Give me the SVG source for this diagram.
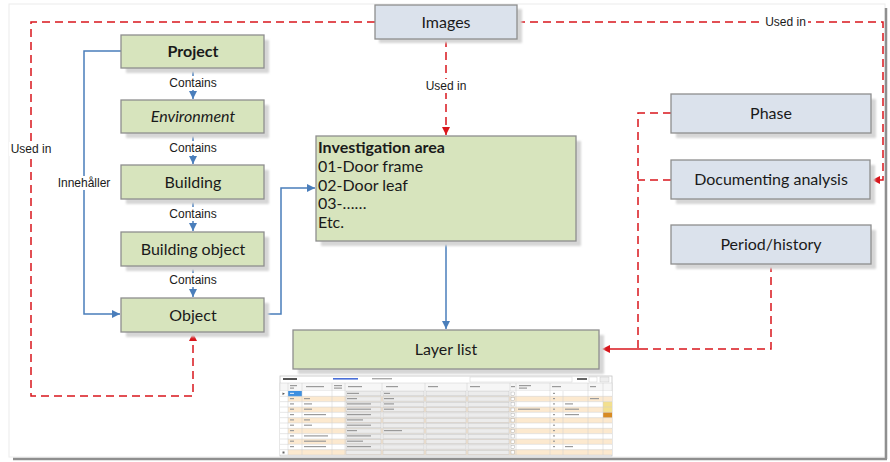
<svg xmlns="http://www.w3.org/2000/svg" width="890" height="462" viewBox="0 0 890 462">
<defs>
<style>
.g{fill:#d7e4bd;stroke:#8e8e8e;stroke-width:1.3}
.b{fill:#dbe2ec;stroke:#8e8e8e;stroke-width:1.3}
.sh{fill:#d6d6d6;filter:url(#blur)}
.t{font-family:Lato,"Noto Sans",sans-serif;font-size:16px;fill:#1a1a1a;text-anchor:middle}
.lbl{font-family:"Liberation Sans",Arial,sans-serif;font-size:12px;fill:#1a1a1a;text-anchor:middle}
.bl{fill:none;stroke:#4a7ebb;stroke-width:1.5}
.rd{fill:none;stroke:#d9161c;stroke-width:1.5;stroke-dasharray:8,5}
.bg{fill:#ffffff}
.cell{stroke:#cfcfcf;stroke-width:0.5}
.dd{fill:#ececec;stroke:#bdbdbd;stroke-width:0.4}
.tx{fill:#9a9a9a}
</style>
<filter id="blur" x="-10%" y="-10%" width="120%" height="120%"><feGaussianBlur stdDeviation="1.2"/></filter>
<marker id="ab" markerUnits="userSpaceOnUse" markerWidth="10" markerHeight="10" refX="8" refY="4" orient="auto"><path d="M0,0 L8,4 L0,8 z" fill="#4a7ebb"/></marker>
<marker id="ar" markerUnits="userSpaceOnUse" markerWidth="10" markerHeight="10" refX="8" refY="4" orient="auto"><path d="M0,0 L8,4 L0,8 z" fill="#d9161c"/></marker>
</defs>

<!-- frame -->
<rect x="0" y="0" width="890" height="462" fill="#ffffff"/>
<rect x="9" y="4" width="876" height="453" fill="#ffffff" stroke="#ececec" stroke-width="1"/>
<line x1="13" y1="459" x2="887" y2="459" stroke="#8f8f8f" stroke-width="2.5"/>
<line x1="886" y1="8" x2="886" y2="459" stroke="#8f8f8f" stroke-width="2.5"/>

<!-- connectors -->
<g id="connectors">
<path class="bl" d="M121,51 H84 V314 H120" marker-end="url(#ab)"/>
<path class="bl" d="M193,68 V99" marker-end="url(#ab)"/>
<path class="bl" d="M193,133 V164" marker-end="url(#ab)"/>
<path class="bl" d="M193,199 V231" marker-end="url(#ab)"/>
<path class="bl" d="M193,266 V297" marker-end="url(#ab)"/>
<path class="bl" d="M264,314 H281 V188 H315" marker-end="url(#ab)"/>
<path class="bl" d="M446,241 V329" marker-end="url(#ab)"/>
<path class="rd" d="M375,22 H31 V396 H193 V333" marker-end="url(#ar)"/>
<path class="rd" d="M517,22 H883 V180 H872" marker-end="url(#ar)"/>
<path class="rd" d="M446,39 V135" marker-end="url(#ar)"/>
<path class="rd" d="M671,113 H638 V349"/>
<path class="rd" d="M671,180 H638"/>
<path class="rd" d="M771,264 V349 H640"/>
<path d="M640,349 H602" fill="none" stroke="#d9161c" stroke-width="1.5" marker-end="url(#ar)"/>
<!-- labels -->
<rect class="bg" x="166" y="76" width="54" height="14"/>
<text class="lbl" x="193" y="87">Contains</text>
<rect class="bg" x="166" y="141" width="54" height="14"/>
<text class="lbl" x="193" y="152">Contains</text>
<rect class="bg" x="166" y="207" width="54" height="14"/>
<text class="lbl" x="193" y="218">Contains</text>
<rect class="bg" x="166" y="273" width="54" height="14"/>
<text class="lbl" x="193" y="284">Contains</text>
<rect class="bg" x="56" y="176" width="56" height="14"/>
<text class="lbl" x="84" y="187">Innehåller</text>
<rect class="bg" x="9" y="142" width="44" height="14"/>
<text class="lbl" x="31" y="153">Used in</text>
<rect class="bg" x="424" y="79" width="44" height="14"/>
<text class="lbl" x="446" y="90">Used in</text>
<rect class="bg" x="763" y="15" width="45" height="14"/>
<text class="lbl" x="785.5" y="26">Used in</text>
</g>

<!-- nodes -->
<g id="images">
<rect class="sh" x="379" y="9" width="143" height="34"/>
<rect class="b" x="375" y="5" width="142" height="34"/>
<text class="t" x="446" y="27.5">Images</text>
</g>
<g id="project">
<rect class="sh" x="126" y="40" width="143" height="33"/>
<rect class="g" x="121" y="35" width="143" height="33"/>
<text class="t" x="193" y="57" font-weight="bold">Project</text>
</g>
<g id="environment">
<rect class="sh" x="126" y="105" width="143" height="33"/>
<rect class="g" x="121" y="100" width="143" height="33"/>
<text class="t" x="193" y="122" font-style="italic">Environment</text>
</g>
<g id="building">
<rect class="sh" x="126" y="170" width="143" height="34"/>
<rect class="g" x="121" y="165" width="143" height="34"/>
<text class="t" x="193" y="187.5">Building</text>
</g>
<g id="building-object">
<rect class="sh" x="126" y="237" width="143" height="34"/>
<rect class="g" x="121" y="232" width="143" height="34"/>
<text class="t" x="193" y="254.5">Building object</text>
</g>
<g id="object">
<rect class="sh" x="126" y="303" width="143" height="34"/>
<rect class="g" x="121" y="298" width="143" height="34"/>
<text class="t" x="193" y="320.5">Object</text>
</g>
<g id="investigation-area">
<rect class="sh" x="321" y="141" width="260" height="105"/>
<rect class="g" x="316" y="136" width="260" height="105"/>
<g font-family="Lato,'Noto Sans',sans-serif" font-size="16" fill="#1a1a1a">
<text x="318" y="153" font-weight="bold">Investigation area</text>
<text x="318" y="172">01-Door frame</text>
<text x="318" y="191">02-Door leaf</text>
<text x="318" y="209">03-……</text>
<text x="318" y="228">Etc.</text>
</g>
</g>
<g id="layer-list">
<rect class="sh" x="298" y="335" width="306" height="39"/>
<rect class="g" x="293" y="330" width="306" height="39"/>
<text class="t" x="446" y="355">Layer list</text>
</g>
<g id="phase">
<rect class="sh" x="676" y="99" width="200" height="39"/>
<rect class="b" x="671" y="94" width="200" height="39"/>
<text class="t" x="771" y="119">Phase</text>
</g>
<g id="documenting-analysis">
<rect class="sh" x="676" y="165" width="199" height="39"/>
<rect class="b" x="671" y="160" width="199" height="39"/>
<text class="t" x="771" y="185">Documenting analysis</text>
</g>
<g id="period-history">
<rect class="sh" x="676" y="230" width="200" height="39"/>
<rect class="b" x="671" y="225" width="200" height="39"/>
<text class="t" x="771" y="250">Period/history</text>
</g>

<!-- layer list screenshot thumbnail -->
<g id="layer-table">
<rect x="280" y="376" width="332" height="80" fill="#ffffff" stroke="#c4c4c4" stroke-width="0.8"/>
<!-- title row -->
<rect x="283" y="378" width="14" height="2" fill="#555"/>
<rect x="333" y="378" width="25" height="1.6" fill="#4a6fd8"/>
<rect x="372" y="378" width="20" height="1.4" fill="#aaa"/>
<rect x="470" y="377" width="102" height="5" fill="#fff" stroke="#d0d0d0" stroke-width="0.5"/>
<rect x="577" y="378" width="10" height="2" fill="#666"/>
<rect x="589" y="377" width="8" height="5" fill="#fff" stroke="#c0c0c0" stroke-width="0.4"/>
<rect x="600" y="377" width="9" height="5" fill="#eee" stroke="#c0c0c0" stroke-width="0.4"/>
<!-- header row -->
<rect x="280" y="383" width="332" height="8" fill="#f6f6f6" stroke="#d0d0d0" stroke-width="0.5"/>
<g class="tx">
<rect x="290" y="385" width="7" height="1.2"/><rect x="290" y="387.5" width="4" height="1.2"/>
<rect x="306" y="386" width="18" height="1.2"/>
<rect x="334" y="385" width="8" height="1.2"/><rect x="334" y="387.5" width="8" height="1.2"/>
<rect x="348" y="386" width="14" height="1.2"/>
<rect x="386" y="386" width="12" height="1.2"/>
<rect x="428" y="386" width="10" height="1.2"/>
<rect x="470" y="386" width="10" height="1.2"/>
<rect x="511" y="386" width="4" height="1.2"/>
<rect x="519" y="385" width="12" height="1.2"/><rect x="519" y="387.5" width="8" height="1.2"/>
<rect x="552" y="386" width="9" height="1.2"/>
<rect x="590" y="386" width="6" height="1.2"/>
</g>
<!-- rows -->
<g>
<rect x="280" y="391" width="332" height="5.33" fill="#ffffff"/>
<rect x="280" y="396.33" width="332" height="5.33" fill="#fce9cf"/>
<rect x="280" y="401.67" width="332" height="5.33" fill="#ffffff"/>
<rect x="280" y="407" width="332" height="5.33" fill="#fce9cf"/>
<rect x="280" y="412.33" width="332" height="5.33" fill="#ffffff"/>
<rect x="280" y="417.67" width="332" height="5.33" fill="#fce9cf"/>
<rect x="280" y="423" width="332" height="5.33" fill="#ffffff"/>
<rect x="280" y="428.33" width="332" height="5.33" fill="#fce9cf"/>
<rect x="280" y="433.67" width="332" height="5.33" fill="#ffffff"/>
<rect x="280" y="439" width="332" height="5.33" fill="#fce9cf"/>
<rect x="280" y="444.33" width="332" height="5.33" fill="#ffffff"/>
<rect x="280" y="449.67" width="332" height="5.33" fill="#fce9cf"/>
<rect x="288" y="391" width="14" height="5.33" fill="#3d8fe0"/>
<rect x="280" y="391" width="8" height="64" fill="#ffffff"/>
<rect x="603" y="401.67" width="9" height="10.66" fill="#f3e08e"/>
<rect x="603" y="412.33" width="9" height="5.33" fill="#d88a22"/>
</g>
<!-- dropdown cells -->
<g class="dd">
<rect x="346" y="391.6" width="35" height="4.2"/><rect x="346" y="396.9" width="35" height="4.2"/><rect x="346" y="402.2" width="35" height="4.2"/><rect x="346" y="407.6" width="35" height="4.2"/><rect x="346" y="412.9" width="35" height="4.2"/><rect x="346" y="418.2" width="35" height="4.2"/><rect x="346" y="423.6" width="35" height="4.2"/><rect x="346" y="428.9" width="35" height="4.2"/><rect x="346" y="434.2" width="35" height="4.2"/><rect x="346" y="439.6" width="35" height="4.2"/><rect x="346" y="444.9" width="35" height="4.2"/><rect x="346" y="450.2" width="35" height="4.2"/>
<rect x="383" y="391.6" width="41" height="4.2"/><rect x="383" y="396.9" width="41" height="4.2"/><rect x="383" y="402.2" width="41" height="4.2"/><rect x="383" y="407.6" width="41" height="4.2"/><rect x="383" y="412.9" width="41" height="4.2"/><rect x="383" y="418.2" width="41" height="4.2"/><rect x="383" y="423.6" width="41" height="4.2"/><rect x="383" y="428.9" width="41" height="4.2"/><rect x="383" y="434.2" width="41" height="4.2"/><rect x="383" y="439.6" width="41" height="4.2"/><rect x="383" y="444.9" width="41" height="4.2"/><rect x="383" y="450.2" width="41" height="4.2"/>
<rect x="426" y="391.6" width="40" height="4.2"/><rect x="426" y="396.9" width="40" height="4.2"/><rect x="426" y="402.2" width="40" height="4.2"/><rect x="426" y="407.6" width="40" height="4.2"/><rect x="426" y="412.9" width="40" height="4.2"/><rect x="426" y="418.2" width="40" height="4.2"/><rect x="426" y="423.6" width="40" height="4.2"/><rect x="426" y="428.9" width="40" height="4.2"/><rect x="426" y="434.2" width="40" height="4.2"/><rect x="426" y="439.6" width="40" height="4.2"/><rect x="426" y="444.9" width="40" height="4.2"/><rect x="426" y="450.2" width="40" height="4.2"/>
<rect x="468" y="391.6" width="41" height="4.2"/><rect x="468" y="396.9" width="41" height="4.2"/><rect x="468" y="402.2" width="41" height="4.2"/><rect x="468" y="407.6" width="41" height="4.2"/><rect x="468" y="412.9" width="41" height="4.2"/><rect x="468" y="418.2" width="41" height="4.2"/><rect x="468" y="423.6" width="41" height="4.2"/><rect x="468" y="428.9" width="41" height="4.2"/><rect x="468" y="434.2" width="41" height="4.2"/><rect x="468" y="439.6" width="41" height="4.2"/><rect x="468" y="444.9" width="41" height="4.2"/><rect x="468" y="450.2" width="41" height="4.2"/>
</g>
<!-- checkboxes -->
<g fill="#fff" stroke="#999" stroke-width="0.4">
<rect x="511" y="392" width="3.4" height="3.4"/><rect x="511" y="397.3" width="3.4" height="3.4"/><rect x="511" y="402.6" width="3.4" height="3.4"/><rect x="511" y="408" width="3.4" height="3.4"/><rect x="511" y="413.3" width="3.4" height="3.4"/><rect x="511" y="418.6" width="3.4" height="3.4"/><rect x="511" y="424" width="3.4" height="3.4"/><rect x="511" y="429.3" width="3.4" height="3.4"/><rect x="511" y="434.6" width="3.4" height="3.4"/><rect x="511" y="440" width="3.4" height="3.4"/><rect x="511" y="445.3" width="3.4" height="3.4"/><rect x="511" y="450.6" width="3.4" height="3.4"/>
</g>
<!-- cell text hints -->
<g class="tx">
<rect x="304" y="398" width="6" height="1.2"/><rect x="304" y="403.3" width="8" height="1.2"/><rect x="304" y="408.6" width="8" height="1.2"/><rect x="304" y="414" width="22" height="1.2"/><rect x="304" y="419.3" width="6" height="1.2"/><rect x="304" y="424.6" width="8" height="1.2"/><rect x="304" y="435.3" width="24" height="1.2"/><rect x="304" y="440.6" width="22" height="1.2"/><rect x="304" y="446" width="22" height="1.2"/>
<rect x="290" y="392.8" width="4" height="1.2" fill="#cfe3f8"/><rect x="290" y="398" width="4" height="1.2"/><rect x="290" y="403.3" width="4" height="1.2"/><rect x="290" y="408.6" width="4" height="1.2"/><rect x="290" y="414" width="4" height="1.2"/><rect x="290" y="419.3" width="4" height="1.2"/><rect x="290" y="424.6" width="4" height="1.2"/><rect x="290" y="430" width="4" height="1.2"/><rect x="290" y="435.3" width="4" height="1.2"/><rect x="290" y="440.6" width="4" height="1.2"/><rect x="290" y="446" width="4" height="1.2"/>
<rect x="347" y="392.8" width="12" height="1.2"/><rect x="347" y="398" width="10" height="1.2"/><rect x="347" y="403.3" width="24" height="1.2"/><rect x="347" y="408.6" width="24" height="1.2"/><rect x="347" y="414" width="24" height="1.2"/><rect x="347" y="419.3" width="16" height="1.2"/><rect x="347" y="424.6" width="24" height="1.2"/><rect x="347" y="430" width="10" height="1.2"/><rect x="347" y="435.3" width="24" height="1.2"/><rect x="347" y="440.6" width="16" height="1.2"/><rect x="347" y="446" width="24" height="1.2"/>
<rect x="384" y="392.8" width="6" height="1.2"/><rect x="384" y="398" width="10" height="1.2"/><rect x="384" y="403.3" width="10" height="1.2"/><rect x="384" y="408.6" width="10" height="1.2"/><rect x="384" y="430" width="18" height="1.2"/>
<rect x="518" y="408.6" width="22" height="1.2"/>
<rect x="553" y="392.8" width="2" height="1.2"/><rect x="553" y="398" width="2" height="1.2"/><rect x="553" y="403.3" width="2" height="1.2"/><rect x="553" y="408.6" width="2" height="1.2"/><rect x="553" y="414" width="2" height="1.2"/><rect x="553" y="419.3" width="2" height="1.2"/><rect x="553" y="424.6" width="2" height="1.2"/><rect x="553" y="430" width="2" height="1.2"/><rect x="553" y="435.3" width="2" height="1.2"/><rect x="553" y="440.6" width="2" height="1.2"/><rect x="553" y="446" width="2" height="1.2"/>
<rect x="565" y="403.3" width="8" height="1.2"/><rect x="565" y="408.6" width="14" height="1.2"/><rect x="565" y="414" width="14" height="1.2"/><rect x="565" y="446" width="8" height="1.2"/>
<rect x="590" y="398" width="9" height="1.2"/>
</g>
<!-- grid lines -->
<g class="cell">
<line x1="288" y1="383" x2="288" y2="455"/><line x1="302" y1="383" x2="302" y2="455"/><line x1="332" y1="383" x2="332" y2="455"/><line x1="345" y1="383" x2="345" y2="455"/><line x1="382" y1="383" x2="382" y2="455"/><line x1="425" y1="383" x2="425" y2="455"/><line x1="467" y1="383" x2="467" y2="455"/><line x1="510" y1="383" x2="510" y2="455"/><line x1="516" y1="383" x2="516" y2="455"/><line x1="550" y1="383" x2="550" y2="455"/><line x1="563" y1="391" x2="563" y2="455"/><line x1="588" y1="383" x2="588" y2="455"/><line x1="603" y1="383" x2="603" y2="455"/>
<line x1="280" y1="396.33" x2="612" y2="396.33"/><line x1="280" y1="401.67" x2="612" y2="401.67"/><line x1="280" y1="407" x2="612" y2="407"/><line x1="280" y1="412.33" x2="612" y2="412.33"/><line x1="280" y1="417.67" x2="612" y2="417.67"/><line x1="280" y1="423" x2="612" y2="423"/><line x1="280" y1="428.33" x2="612" y2="428.33"/><line x1="280" y1="433.67" x2="612" y2="433.67"/><line x1="280" y1="439" x2="612" y2="439"/><line x1="280" y1="444.33" x2="612" y2="444.33"/><line x1="280" y1="449.67" x2="612" y2="449.67"/><line x1="280" y1="455" x2="612" y2="455"/>
</g>
<path d="M282.5,392.5 L285,393.8 L282.5,395 z" fill="#555"/>
<rect x="282.5" y="451.5" width="2" height="2" fill="#666"/>
</g>
</svg>
